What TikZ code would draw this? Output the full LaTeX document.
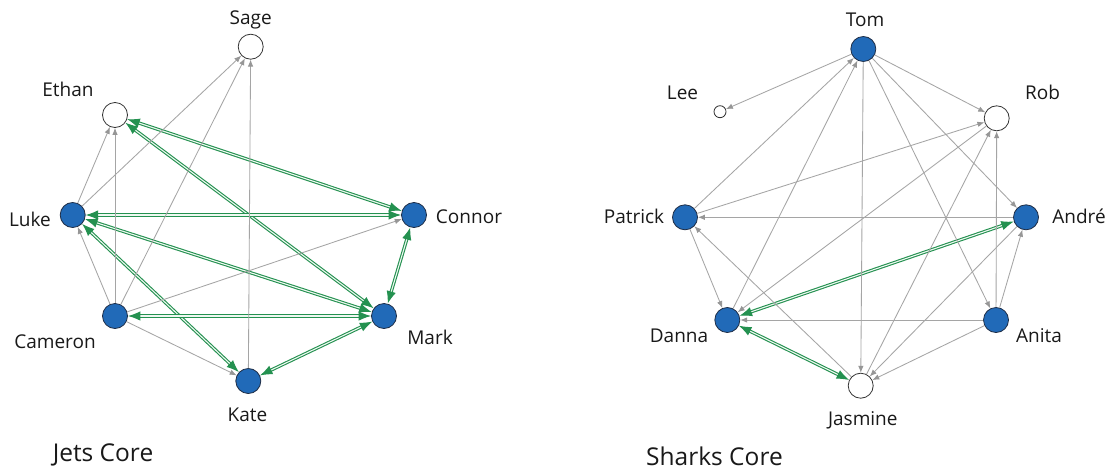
\documentclass[tikz,border=0pt]{standalone}
\usepackage{fontspec}
\setmainfont{Open Sans}
\usetikzlibrary{arrows.meta}
\definecolor{nodeblue}{RGB}{33,106,184}
\definecolor{nodeedge}{RGB}{30,45,70}
\definecolor{edgegray}{RGB}{165,165,165}
\definecolor{headgray}{RGB}{150,150,150}
\definecolor{dgreen}{RGB}{36,145,80}
\definecolor{gapcol}{RGB}{238,248,241}
\definecolor{txt}{RGB}{25,25,25}
\tikzset{
  bnode/.style={circle, fill=nodeblue, draw=nodeedge, line width=0.8pt, minimum size=25pt, inner sep=0pt},
  wnode/.style={circle, fill=white, draw=black!80, line width=0.8pt, minimum size=25pt, inner sep=0pt},
  snode/.style={circle, fill=white, draw=black!80, line width=0.8pt, minimum size=12pt, inner sep=0pt},
  lbl/.style={font=\fontsize{19}{22}\selectfont, text=txt, inner sep=0pt, anchor=base},
  ttl/.style={font=\fontsize{24.5}{29}\selectfont, text=txt, inner sep=0pt, anchor=base},
  garr/.style={draw=edgegray, line width=0.85pt, -{Latex[length=7pt,width=5.5pt,color=headgray]}},
  grn/.style={draw=dgreen, double=gapcol, double distance=1.1pt, line width=1.1pt,
     {Latex[length=12.5pt,width=9.5pt]}-{Latex[length=12.5pt,width=9.5pt]}},
}
\begin{document}
\begin{tikzpicture}[x=1pt,y=-1pt]
\useasboundingbox (0,0) rectangle (1116,469);
\fill[white] (0,0) rectangle (1116,469);

% ---------------- Jets Core ----------------
\node[wnode] (sage)    at (250.7,46.7) {};
\node[wnode] (ethan)   at (115,115) {};
\node[bnode] (luke)    at (72.7,215) {};
\node[bnode] (connor)  at (414,215) {};
\node[bnode] (cameron) at (115,316) {};
\node[bnode] (mark)    at (384,316) {};
\node[bnode] (kate)    at (248.3,381) {};

\node[lbl] (lsage)    at (250.7,24) {Sage};
\node[lbl] (lethan)   at (68,96) {Ethan};
\node[lbl] (lluke)    at (30,226) {Luke};
\node[lbl] (lconnor)  at (469,223) {Connor};
\node[lbl] (lcameron) at (55,348) {Cameron};
\node[lbl] (lmark)    at (430,344) {Mark};
\node[lbl] (lkate)    at (247.5,421.7) {Kate};
\node[ttl] (tjets)    at (103,461.7) {Jets Core};

\draw[grn] (ethan) -- (connor);
\draw[grn] (ethan) -- (mark);
\draw[grn] (luke) -- (connor);
\draw[grn] (luke) -- (mark);
\draw[grn] (luke) -- (kate);
\draw[grn] (cameron) -- (mark);
\draw[grn] (connor) -- (mark);
\draw[grn] (kate) -- (mark);

\draw[garr] (luke) -- (ethan);
\draw[garr] (cameron) -- (ethan);
\draw[garr] (luke) -- (sage);
\draw[garr] (cameron) -- (sage);
\draw[garr] (kate) -- (sage);
\draw[garr] (cameron) -- (luke);
\draw[garr] (cameron) -- (connor);
\draw[garr] (cameron) -- (kate);

% ---------------- Sharks Core ----------------
\node[bnode] (tom)     at (863.3,49) {};
\node[snode] (lee)     at (720,111.7) {};
\node[wnode] (rob)     at (996.7,118.3) {};
\node[bnode] (patrick) at (685,217.3) {};
\node[bnode] (andre)   at (1026,217.3) {};
\node[bnode] (danna)   at (727.3,320) {};
\node[bnode] (anita)   at (996,320) {};
\node[wnode] (jasmine) at (860.7,385.7) {};

\node[lbl] (ltom)     at (865,26) {Tom};
\node[lbl] (llee)     at (682.5,99) {Lee};
\node[lbl] (lrob)     at (1042.5,99) {Rob};
\node[lbl] (lpatrick) at (634,223.3) {Patrick};
\node[lbl] (landre)   at (1079,223.3) {André};
\node[lbl] (ldanna)   at (679,342.3) {Danna};
\node[lbl] (lanita)   at (1039,342.3) {Anita};
\node[lbl] (ljasmine) at (862.8,425) {Jasmine};
\node[ttl] (tsharks)  at (714.5,465) {Sharks Core};

\draw[grn] (danna) -- (andre);
\draw[grn] (danna) -- (jasmine);

\draw[garr] (tom) -- (lee);
\draw[garr] (patrick) -- (tom);
\draw[garr] (danna) -- (tom);
\draw[garr] (tom) -- (jasmine);
\draw[garr] (tom) -- (rob);
\draw[garr] (tom) -- (andre);
\draw[garr] (tom) -- (anita);
\draw[garr] (patrick) -- (rob);
\draw[garr] (andre) -- (patrick);
\draw[garr] (patrick) -- (danna);
\draw[garr] (jasmine) -- (patrick);
\draw[garr] (rob) -- (danna);
\draw[garr] (jasmine) -- (rob);
\draw[garr] (anita) -- (rob);
\draw[garr] (anita) -- (danna);
\draw[garr] (anita) -- (andre);
\draw[garr] (andre) -- (jasmine);
\draw[garr] (anita) -- (jasmine);
\end{tikzpicture}
\end{document}
